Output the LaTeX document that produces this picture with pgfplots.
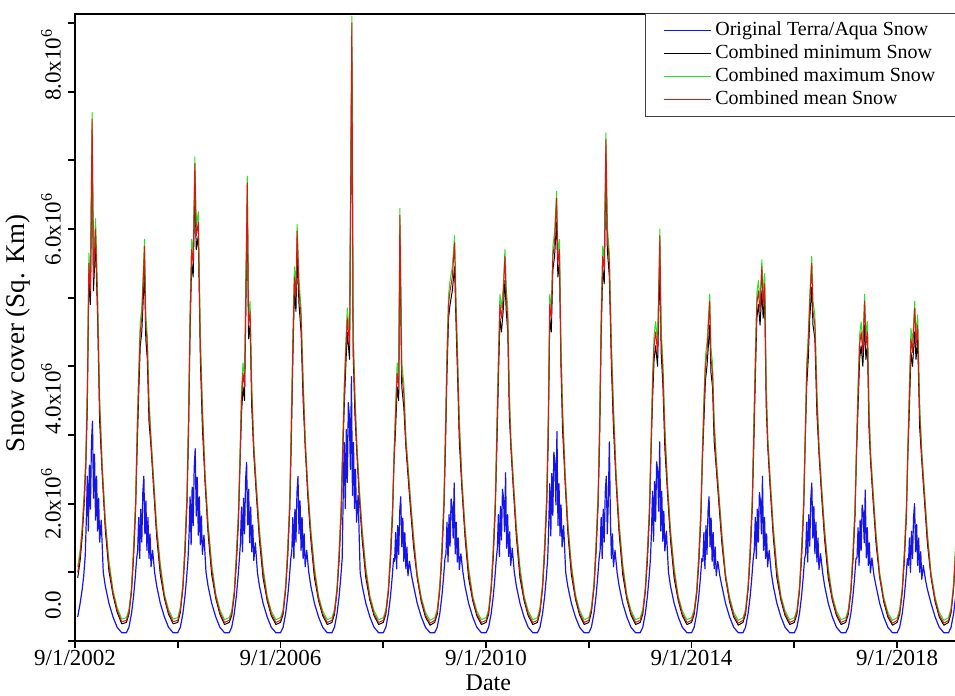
\documentclass[border=0pt]{standalone}
\usepackage{fontspec}
\setmainfont{Liberation Serif}
\usepackage{pgfplots}
\pgfplotsset{compat=1.18}
\usepackage{pgfplotstable}

\definecolor{snowblue}{RGB}{20,20,235}
\definecolor{snowgreen}{RGB}{40,225,40}
\definecolor{snowred}{RGB}{225,20,20}

% combined products: x = decimal year, k = minimum, g = maximum, r = mean (10^6 sq. km)
\pgfplotstableread{
x k g r
2002.720 0.92 1.08 1.00
2002.767 1.17 1.33 1.25
2002.807 1.52 1.68 1.60
2002.847 2.02 2.18 2.10
2002.877 2.52 2.68 2.60
2002.907 3.40 3.75 3.60
2002.937 5.30 5.65 5.50
2002.967 4.90 5.25 5.10
2003.000 7.25 7.70 7.60
2003.027 5.10 5.45 5.30
2003.067 5.80 6.15 6.00
2003.107 4.70 5.05 4.90
2003.147 3.20 3.55 3.40
2003.197 2.42 2.58 2.50
2003.257 1.62 1.78 1.70
2003.327 1.02 1.18 1.10
2003.407 0.67 0.74 0.70
2003.487 0.42 0.49 0.45
2003.577 0.25 0.32 0.28
2003.667 0.27 0.34 0.30
2003.717 0.39 0.46 0.42
2003.767 0.72 0.79 0.75
2003.807 1.22 1.38 1.30
2003.847 1.92 2.08 2.00
2003.877 2.80 3.15 3.00
2003.907 3.60 3.95 3.80
2003.937 4.30 4.65 4.50
2003.967 4.50 4.85 4.70
2004.020 5.40 5.85 5.75
2004.045 4.40 4.75 4.60
2004.075 4.10 4.45 4.30
2004.107 3.20 3.55 3.40
2004.147 2.82 2.98 2.90
2004.197 2.22 2.38 2.30
2004.257 1.52 1.68 1.60
2004.327 0.97 1.13 1.05
2004.407 0.62 0.69 0.65
2004.487 0.39 0.46 0.42
2004.577 0.25 0.32 0.28
2004.667 0.27 0.34 0.30
2004.717 0.42 0.49 0.45
2004.767 0.77 0.84 0.80
2004.807 1.27 1.43 1.35
2004.847 2.02 2.18 2.10
2004.877 3.00 3.35 3.20
2004.907 4.50 4.85 4.70
2004.937 5.50 5.85 5.70
2004.967 5.30 5.65 5.50
2005.000 6.60 7.05 6.95
2005.027 5.70 6.05 5.90
2005.067 5.90 6.25 6.10
2005.107 4.10 4.45 4.30
2005.147 3.10 3.45 3.30
2005.197 2.32 2.48 2.40
2005.257 1.57 1.73 1.65
2005.327 0.97 1.13 1.05
2005.407 0.62 0.69 0.65
2005.487 0.39 0.46 0.42
2005.577 0.24 0.31 0.27
2005.667 0.27 0.34 0.30
2005.717 0.37 0.44 0.40
2005.767 0.67 0.74 0.70
2005.807 1.12 1.28 1.20
2005.847 1.72 1.88 1.80
2005.877 2.52 2.68 2.60
2005.907 3.30 3.65 3.50
2005.937 3.70 4.05 3.90
2005.967 3.50 3.85 3.70
2006.020 6.32 6.77 6.67
2006.045 4.40 4.75 4.60
2006.075 4.60 4.95 4.80
2006.107 3.40 3.75 3.60
2006.147 2.72 2.88 2.80
2006.197 2.12 2.28 2.20
2006.257 1.47 1.63 1.55
2006.327 0.92 1.08 1.00
2006.407 0.59 0.66 0.62
2006.487 0.37 0.44 0.40
2006.577 0.24 0.31 0.27
2006.667 0.27 0.34 0.30
2006.717 0.39 0.46 0.42
2006.767 0.75 0.82 0.78
2006.807 1.22 1.38 1.30
2006.847 1.92 2.08 2.00
2006.877 2.90 3.25 3.10
2006.907 4.10 4.45 4.30
2006.937 5.10 5.45 5.30
2006.967 4.80 5.15 5.00
2006.990 5.62 6.07 5.97
2007.027 4.90 5.25 5.10
2007.067 4.50 4.85 4.70
2007.107 3.50 3.85 3.70
2007.147 2.82 2.98 2.90
2007.197 2.12 2.28 2.20
2007.257 1.47 1.63 1.55
2007.327 0.92 1.08 1.00
2007.407 0.59 0.66 0.62
2007.487 0.37 0.44 0.40
2007.577 0.24 0.31 0.27
2007.667 0.27 0.34 0.30
2007.717 0.39 0.46 0.42
2007.767 0.72 0.79 0.75
2007.807 1.17 1.33 1.25
2007.847 1.82 1.98 1.90
2007.877 2.72 2.88 2.80
2007.907 3.40 3.75 3.60
2007.937 4.00 4.35 4.20
2007.967 4.50 4.85 4.70
2008.010 4.10 4.45 4.30
2008.055 8.65 9.10 9.00
2008.080 4.20 4.55 4.40
2008.115 3.30 3.65 3.50
2008.147 2.82 2.98 2.90
2008.197 2.12 2.28 2.20
2008.257 1.47 1.63 1.55
2008.327 0.92 1.08 1.00
2008.407 0.59 0.66 0.62
2008.487 0.37 0.44 0.40
2008.577 0.24 0.31 0.27
2008.667 0.27 0.34 0.30
2008.717 0.39 0.46 0.42
2008.767 0.72 0.79 0.75
2008.807 1.17 1.33 1.25
2008.847 1.82 1.98 1.90
2008.877 2.62 2.78 2.70
2008.907 3.10 3.45 3.30
2008.937 3.70 4.05 3.90
2008.967 3.50 3.85 3.70
2008.990 5.85 6.30 6.20
2009.027 3.70 4.05 3.90
2009.067 3.40 3.75 3.60
2009.107 2.82 2.98 2.90
2009.147 2.42 2.58 2.50
2009.197 1.92 2.08 2.00
2009.257 1.37 1.53 1.45
2009.327 0.92 0.99 0.95
2009.407 0.57 0.64 0.60
2009.487 0.35 0.42 0.38
2009.577 0.23 0.30 0.26
2009.667 0.27 0.34 0.30
2009.717 0.39 0.46 0.42
2009.767 0.75 0.82 0.78
2009.807 1.22 1.38 1.30
2009.847 1.92 2.08 2.00
2009.877 2.80 3.15 3.00
2009.907 3.90 4.25 4.10
2009.937 4.70 5.05 4.90
2009.967 4.90 5.25 5.10
2010.010 5.10 5.45 5.30
2010.055 5.45 5.90 5.80
2010.080 4.70 5.05 4.90
2010.115 3.80 4.15 4.00
2010.147 2.90 3.25 3.10
2010.197 2.22 2.38 2.30
2010.257 1.52 1.68 1.60
2010.327 0.92 1.08 1.00
2010.407 0.59 0.66 0.62
2010.487 0.37 0.44 0.40
2010.577 0.24 0.31 0.27
2010.667 0.27 0.34 0.30
2010.717 0.39 0.46 0.42
2010.767 0.75 0.82 0.78
2010.807 1.22 1.38 1.30
2010.847 1.92 2.08 2.00
2010.877 2.80 3.15 3.00
2010.907 3.80 4.15 4.00
2010.937 4.70 5.05 4.90
2010.967 4.50 4.85 4.70
2011.000 4.80 5.15 5.00
2011.035 5.25 5.70 5.60
2011.060 4.80 5.15 5.00
2011.090 4.50 4.85 4.70
2011.120 3.30 3.65 3.50
2011.150 2.82 2.98 2.90
2011.197 2.22 2.38 2.30
2011.257 1.52 1.68 1.60
2011.327 0.92 1.08 1.00
2011.407 0.59 0.66 0.62
2011.487 0.37 0.44 0.40
2011.577 0.24 0.31 0.27
2011.667 0.27 0.34 0.30
2011.717 0.42 0.49 0.45
2011.767 0.77 0.84 0.80
2011.807 1.27 1.43 1.35
2011.847 1.97 2.13 2.05
2011.877 2.90 3.25 3.10
2011.907 4.70 5.05 4.90
2011.937 4.50 4.85 4.70
2011.967 5.40 5.75 5.60
2012.000 5.60 5.95 5.80
2012.040 6.10 6.55 6.45
2012.065 5.30 5.65 5.50
2012.095 5.50 5.85 5.70
2012.125 4.00 4.35 4.20
2012.155 3.10 3.45 3.30
2012.205 2.32 2.48 2.40
2012.260 1.57 1.73 1.65
2012.327 0.97 1.13 1.05
2012.407 0.61 0.68 0.64
2012.487 0.38 0.45 0.41
2012.577 0.24 0.31 0.27
2012.667 0.27 0.34 0.30
2012.717 0.42 0.49 0.45
2012.767 0.77 0.84 0.80
2012.807 1.27 1.43 1.35
2012.847 1.97 2.13 2.05
2012.877 2.90 3.25 3.10
2012.907 4.40 4.75 4.60
2012.937 5.40 5.75 5.60
2012.967 5.20 5.55 5.40
2013.000 6.95 7.40 7.30
2013.027 5.70 6.05 5.90
2013.067 5.30 5.65 5.50
2013.107 4.00 4.35 4.20
2013.147 3.10 3.45 3.30
2013.197 2.32 2.48 2.40
2013.257 1.57 1.73 1.65
2013.327 0.97 1.13 1.05
2013.407 0.61 0.68 0.64
2013.487 0.38 0.45 0.41
2013.577 0.24 0.31 0.27
2013.667 0.27 0.34 0.30
2013.717 0.39 0.46 0.42
2013.767 0.72 0.79 0.75
2013.807 1.17 1.33 1.25
2013.847 1.82 1.98 1.90
2013.877 2.72 2.88 2.80
2013.907 3.50 3.85 3.70
2013.937 4.10 4.45 4.30
2013.967 4.30 4.65 4.50
2014.005 4.00 4.35 4.20
2014.050 5.55 6.00 5.90
2014.075 4.20 4.55 4.40
2014.110 3.70 4.05 3.90
2014.147 2.80 3.15 3.00
2014.197 2.17 2.33 2.25
2014.257 1.47 1.63 1.55
2014.327 0.92 1.08 1.00
2014.407 0.59 0.66 0.62
2014.487 0.37 0.44 0.40
2014.577 0.24 0.31 0.27
2014.667 0.27 0.34 0.30
2014.717 0.39 0.46 0.42
2014.767 0.69 0.76 0.72
2014.807 1.12 1.28 1.20
2014.847 1.77 1.93 1.85
2014.877 2.62 2.78 2.70
2014.907 3.20 3.55 3.40
2014.937 3.80 4.15 4.00
2014.967 4.00 4.35 4.20
2015.020 4.60 5.05 4.95
2015.045 3.90 4.25 4.10
2015.075 3.70 4.05 3.90
2015.107 2.90 3.25 3.10
2015.147 2.52 2.68 2.60
2015.197 2.02 2.18 2.10
2015.257 1.42 1.58 1.50
2015.327 0.92 0.99 0.95
2015.407 0.57 0.64 0.60
2015.487 0.35 0.42 0.38
2015.577 0.23 0.30 0.26
2015.667 0.27 0.34 0.30
2015.717 0.39 0.46 0.42
2015.767 0.75 0.82 0.78
2015.807 1.22 1.38 1.30
2015.847 1.92 2.08 2.00
2015.877 2.80 3.15 3.00
2015.907 3.80 4.15 4.00
2015.937 4.70 5.05 4.90
2015.967 4.90 5.25 5.10
2016.000 4.60 4.95 4.80
2016.035 5.10 5.55 5.45
2016.060 4.70 5.05 4.90
2016.090 5.00 5.35 5.20
2016.120 3.40 3.75 3.60
2016.150 2.82 2.98 2.90
2016.197 2.22 2.38 2.30
2016.257 1.52 1.68 1.60
2016.327 0.92 1.08 1.00
2016.407 0.59 0.66 0.62
2016.487 0.37 0.44 0.40
2016.577 0.24 0.31 0.27
2016.667 0.27 0.34 0.30
2016.717 0.39 0.46 0.42
2016.767 0.73 0.80 0.76
2016.807 1.20 1.36 1.28
2016.847 1.87 2.03 1.95
2016.877 2.82 2.98 2.90
2016.907 3.70 4.05 3.90
2016.937 4.10 4.45 4.30
2016.967 4.70 5.05 4.90
2017.005 5.15 5.60 5.50
2017.030 4.60 4.95 4.80
2017.067 4.40 4.75 4.60
2017.107 3.30 3.65 3.50
2017.147 2.72 2.88 2.80
2017.197 2.12 2.28 2.20
2017.257 1.47 1.63 1.55
2017.327 0.92 1.08 1.00
2017.407 0.59 0.66 0.62
2017.487 0.37 0.44 0.40
2017.577 0.24 0.31 0.27
2017.667 0.27 0.34 0.30
2017.717 0.39 0.46 0.42
2017.767 0.71 0.78 0.74
2017.807 1.16 1.32 1.24
2017.847 1.80 1.96 1.88
2017.877 2.72 2.88 2.80
2017.907 3.40 3.75 3.60
2017.937 4.10 4.45 4.30
2017.967 4.30 4.65 4.50
2018.000 4.00 4.35 4.20
2018.035 4.60 5.05 4.95
2018.060 4.10 4.45 4.30
2018.090 4.30 4.65 4.50
2018.120 3.10 3.45 3.30
2018.150 2.62 2.78 2.70
2018.197 2.07 2.23 2.15
2018.257 1.42 1.58 1.50
2018.327 0.93 1.00 0.96
2018.407 0.57 0.64 0.60
2018.487 0.35 0.42 0.38
2018.577 0.23 0.30 0.26
2018.667 0.27 0.34 0.30
2018.717 0.39 0.46 0.42
2018.767 0.71 0.78 0.74
2018.807 1.16 1.32 1.24
2018.847 1.80 1.96 1.88
2018.877 2.72 2.88 2.80
2018.907 3.40 3.75 3.60
2018.937 4.20 4.55 4.40
2018.967 4.00 4.35 4.20
2019.010 4.50 4.95 4.85
2019.035 4.10 4.45 4.30
2019.067 4.40 4.75 4.60
2019.107 3.10 3.45 3.30
2019.147 2.62 2.78 2.70
2019.197 2.07 2.23 2.15
2019.257 1.42 1.58 1.50
2019.327 0.93 1.00 0.96
2019.407 0.57 0.64 0.60
2019.487 0.35 0.42 0.38
2019.577 0.23 0.30 0.26
2019.667 0.27 0.34 0.30
2019.717 0.41 0.48 0.44
2019.767 0.77 0.84 0.80
2019.807 1.27 1.43 1.35
2019.847 1.92 2.08 2.00
}\combdata

% original Terra/Aqua product, one season per line (10^6 sq. km)
\pgfplotstableread[row sep=\\]{
x b\\
2002.720 0.35\\ 2002.767 0.55\\ 2002.807 0.75\\ 2002.837 0.95\\ 2002.867 1.25\\ 2002.887 1.76\\ 2002.907 2.40\\ 2002.927 1.60\\ 2002.947 2.56\\ 2002.967 1.92\\ 2002.987 2.88\\ 2003.007 3.20\\ 2003.027 2.08\\ 2003.047 2.72\\ 2003.067 1.76\\ 2003.087 2.40\\ 2003.107 1.60\\ 2003.127 2.08\\ 2003.147 1.44\\ 2003.177 1.76\\ 2003.217 1.00\\ 2003.257 0.80\\ 2003.327 0.55\\ 2003.407 0.35\\ 2003.487 0.20\\ 2003.577 0.12\\
2003.667 0.12\\ 2003.717 0.20\\ 2003.767 0.40\\ 2003.807 0.65\\ 2003.837 0.90\\ 2003.867 1.20\\ 2003.887 1.32\\ 2003.907 1.80\\ 2003.927 1.20\\ 2003.947 1.92\\ 2003.967 1.44\\ 2003.987 2.16\\ 2004.007 2.40\\ 2004.027 1.56\\ 2004.047 2.04\\ 2004.067 1.32\\ 2004.087 1.80\\ 2004.107 1.20\\ 2004.127 1.56\\ 2004.147 1.08\\ 2004.177 1.32\\ 2004.217 1.00\\ 2004.257 0.80\\ 2004.327 0.55\\ 2004.407 0.35\\ 2004.487 0.20\\ 2004.577 0.12\\
2004.667 0.12\\ 2004.717 0.20\\ 2004.767 0.40\\ 2004.807 0.65\\ 2004.837 0.90\\ 2004.867 1.20\\ 2004.887 1.54\\ 2004.907 2.10\\ 2004.927 1.40\\ 2004.947 2.24\\ 2004.967 1.68\\ 2004.987 2.52\\ 2005.007 2.80\\ 2005.027 1.82\\ 2005.047 2.38\\ 2005.067 1.54\\ 2005.087 2.10\\ 2005.107 1.40\\ 2005.127 1.82\\ 2005.147 1.26\\ 2005.177 1.54\\ 2005.217 1.00\\ 2005.257 0.80\\ 2005.327 0.55\\ 2005.407 0.35\\ 2005.487 0.20\\ 2005.577 0.12\\
2005.667 0.12\\ 2005.717 0.20\\ 2005.767 0.40\\ 2005.807 0.65\\ 2005.837 0.90\\ 2005.867 1.20\\ 2005.887 1.43\\ 2005.907 1.95\\ 2005.927 1.30\\ 2005.947 2.08\\ 2005.967 1.56\\ 2005.987 2.34\\ 2006.007 2.60\\ 2006.027 1.69\\ 2006.047 2.21\\ 2006.067 1.43\\ 2006.087 1.95\\ 2006.107 1.30\\ 2006.127 1.69\\ 2006.147 1.17\\ 2006.177 1.43\\ 2006.217 1.00\\ 2006.257 0.80\\ 2006.327 0.55\\ 2006.407 0.35\\ 2006.487 0.20\\ 2006.577 0.12\\
2006.667 0.12\\ 2006.717 0.20\\ 2006.767 0.40\\ 2006.807 0.65\\ 2006.837 0.90\\ 2006.867 1.20\\ 2006.887 1.32\\ 2006.907 1.80\\ 2006.927 1.20\\ 2006.947 1.92\\ 2006.967 1.44\\ 2006.987 2.16\\ 2007.007 2.40\\ 2007.027 1.56\\ 2007.047 2.04\\ 2007.067 1.32\\ 2007.087 1.80\\ 2007.107 1.20\\ 2007.127 1.56\\ 2007.147 1.08\\ 2007.177 1.32\\ 2007.217 1.00\\ 2007.257 0.80\\ 2007.327 0.55\\ 2007.407 0.35\\ 2007.487 0.20\\ 2007.577 0.12\\
2007.667 0.12\\ 2007.717 0.20\\ 2007.767 0.40\\ 2007.807 0.65\\ 2007.837 0.90\\ 2007.867 1.20\\ 2007.887 2.12\\ 2007.907 2.89\\ 2007.927 1.93\\ 2007.947 3.08\\ 2007.967 2.31\\ 2007.987 3.47\\ 2008.007 3.27\\ 2008.027 2.50\\ 2008.047 3.85\\ 2008.067 2.12\\ 2008.087 2.89\\ 2008.107 1.93\\ 2008.127 2.50\\ 2008.147 1.73\\ 2008.177 2.12\\ 2008.217 1.00\\ 2008.257 0.80\\ 2008.327 0.55\\ 2008.407 0.35\\ 2008.487 0.20\\ 2008.577 0.12\\
2008.667 0.12\\ 2008.717 0.20\\ 2008.767 0.40\\ 2008.807 0.65\\ 2008.837 0.90\\ 2008.867 1.20\\ 2008.887 1.16\\ 2008.907 1.58\\ 2008.927 1.05\\ 2008.947 1.68\\ 2008.967 1.26\\ 2008.987 1.89\\ 2009.007 2.10\\ 2009.027 1.37\\ 2009.047 1.79\\ 2009.067 1.16\\ 2009.087 1.58\\ 2009.107 1.05\\ 2009.127 1.37\\ 2009.147 0.95\\ 2009.177 1.16\\ 2009.217 0.95\\ 2009.257 0.80\\ 2009.327 0.55\\ 2009.407 0.35\\ 2009.487 0.20\\ 2009.577 0.12\\
2009.667 0.12\\ 2009.717 0.20\\ 2009.767 0.40\\ 2009.807 0.65\\ 2009.837 0.90\\ 2009.867 1.20\\ 2009.887 1.27\\ 2009.907 1.73\\ 2009.927 1.15\\ 2009.947 1.84\\ 2009.967 1.38\\ 2009.987 2.07\\ 2010.007 1.96\\ 2010.027 1.50\\ 2010.047 2.30\\ 2010.067 1.27\\ 2010.087 1.73\\ 2010.107 1.15\\ 2010.127 1.50\\ 2010.147 1.04\\ 2010.177 1.27\\ 2010.217 1.00\\ 2010.257 0.80\\ 2010.327 0.55\\ 2010.407 0.35\\ 2010.487 0.20\\ 2010.577 0.12\\
2010.667 0.12\\ 2010.717 0.20\\ 2010.767 0.40\\ 2010.807 0.65\\ 2010.837 0.90\\ 2010.867 1.20\\ 2010.887 1.35\\ 2010.907 1.84\\ 2010.927 1.23\\ 2010.947 1.96\\ 2010.967 1.47\\ 2010.987 2.21\\ 2011.007 2.08\\ 2011.027 1.59\\ 2011.047 2.45\\ 2011.067 1.35\\ 2011.087 1.84\\ 2011.107 1.23\\ 2011.127 1.59\\ 2011.147 1.10\\ 2011.177 1.35\\ 2011.217 1.00\\ 2011.257 0.80\\ 2011.327 0.55\\ 2011.407 0.35\\ 2011.487 0.20\\ 2011.577 0.12\\
2011.667 0.12\\ 2011.717 0.20\\ 2011.767 0.40\\ 2011.807 0.65\\ 2011.837 0.90\\ 2011.867 1.20\\ 2011.887 1.68\\ 2011.907 2.29\\ 2011.927 1.53\\ 2011.947 2.44\\ 2011.967 1.83\\ 2011.987 2.75\\ 2012.007 2.59\\ 2012.027 1.98\\ 2012.047 3.05\\ 2012.067 1.68\\ 2012.087 2.29\\ 2012.107 1.53\\ 2012.127 1.98\\ 2012.147 1.37\\ 2012.177 1.68\\ 2012.217 1.00\\ 2012.257 0.80\\ 2012.327 0.55\\ 2012.407 0.35\\ 2012.487 0.20\\ 2012.577 0.12\\
2012.667 0.12\\ 2012.717 0.20\\ 2012.767 0.40\\ 2012.807 0.65\\ 2012.837 0.90\\ 2012.867 1.20\\ 2012.887 1.32\\ 2012.907 1.80\\ 2012.927 1.20\\ 2012.947 1.92\\ 2012.967 1.44\\ 2012.987 2.16\\ 2013.007 2.40\\ 2013.027 1.56\\ 2013.047 2.04\\ 2013.067 2.90\\ 2013.087 1.80\\ 2013.107 1.20\\ 2013.127 1.56\\ 2013.147 1.08\\ 2013.177 1.32\\ 2013.217 1.00\\ 2013.257 0.80\\ 2013.327 0.55\\ 2013.407 0.35\\ 2013.487 0.20\\ 2013.577 0.12\\
2013.667 0.12\\ 2013.717 0.20\\ 2013.767 0.40\\ 2013.807 0.65\\ 2013.837 0.90\\ 2013.867 1.20\\ 2013.887 1.60\\ 2013.907 2.18\\ 2013.927 1.45\\ 2013.947 2.32\\ 2013.967 1.74\\ 2013.987 2.61\\ 2014.007 2.47\\ 2014.027 1.89\\ 2014.047 2.90\\ 2014.067 1.60\\ 2014.087 2.18\\ 2014.107 1.45\\ 2014.127 1.89\\ 2014.147 1.31\\ 2014.177 1.60\\ 2014.217 1.00\\ 2014.257 0.80\\ 2014.327 0.55\\ 2014.407 0.35\\ 2014.487 0.20\\ 2014.577 0.12\\
2014.667 0.12\\ 2014.717 0.20\\ 2014.767 0.40\\ 2014.807 0.65\\ 2014.837 0.90\\ 2014.867 1.20\\ 2014.887 1.16\\ 2014.907 1.58\\ 2014.927 1.05\\ 2014.947 1.68\\ 2014.967 1.26\\ 2014.987 1.89\\ 2015.007 2.10\\ 2015.027 1.37\\ 2015.047 1.79\\ 2015.067 1.16\\ 2015.087 1.58\\ 2015.107 1.05\\ 2015.127 1.37\\ 2015.147 0.95\\ 2015.177 1.16\\ 2015.217 0.95\\ 2015.257 0.80\\ 2015.327 0.55\\ 2015.407 0.35\\ 2015.487 0.20\\ 2015.577 0.12\\
2015.667 0.12\\ 2015.717 0.20\\ 2015.767 0.40\\ 2015.807 0.65\\ 2015.837 0.90\\ 2015.867 1.20\\ 2015.887 1.32\\ 2015.907 1.80\\ 2015.927 1.20\\ 2015.947 1.92\\ 2015.967 1.44\\ 2015.987 2.16\\ 2016.007 2.04\\ 2016.027 1.56\\ 2016.047 2.40\\ 2016.067 1.32\\ 2016.087 1.80\\ 2016.107 1.20\\ 2016.127 1.56\\ 2016.147 1.08\\ 2016.177 1.32\\ 2016.217 1.00\\ 2016.257 0.80\\ 2016.327 0.55\\ 2016.407 0.35\\ 2016.487 0.20\\ 2016.577 0.12\\
2016.667 0.12\\ 2016.717 0.20\\ 2016.767 0.40\\ 2016.807 0.65\\ 2016.837 0.90\\ 2016.867 1.20\\ 2016.887 1.27\\ 2016.907 1.73\\ 2016.927 1.15\\ 2016.947 1.84\\ 2016.967 1.38\\ 2016.987 2.07\\ 2017.007 2.30\\ 2017.027 1.50\\ 2017.047 1.96\\ 2017.067 1.27\\ 2017.087 1.73\\ 2017.107 1.15\\ 2017.127 1.50\\ 2017.147 1.04\\ 2017.177 1.27\\ 2017.217 1.00\\ 2017.257 0.80\\ 2017.327 0.55\\ 2017.407 0.35\\ 2017.487 0.20\\ 2017.577 0.12\\
2017.667 0.12\\ 2017.717 0.20\\ 2017.767 0.40\\ 2017.807 0.65\\ 2017.837 0.90\\ 2017.867 1.20\\ 2017.887 1.21\\ 2017.907 1.65\\ 2017.927 1.10\\ 2017.947 1.76\\ 2017.967 1.32\\ 2017.987 1.98\\ 2018.007 1.87\\ 2018.027 1.43\\ 2018.047 2.20\\ 2018.067 1.21\\ 2018.087 1.65\\ 2018.107 1.10\\ 2018.127 1.43\\ 2018.147 0.99\\ 2018.177 1.21\\ 2018.217 0.95\\ 2018.257 0.80\\ 2018.327 0.55\\ 2018.407 0.35\\ 2018.487 0.20\\ 2018.577 0.12\\
2018.667 0.12\\ 2018.717 0.20\\ 2018.767 0.40\\ 2018.807 0.65\\ 2018.837 0.90\\ 2018.867 1.20\\ 2018.887 1.10\\ 2018.907 1.50\\ 2018.927 1.00\\ 2018.947 1.60\\ 2018.967 1.20\\ 2018.987 1.80\\ 2019.007 2.00\\ 2019.027 1.30\\ 2019.047 1.70\\ 2019.067 1.10\\ 2019.087 1.50\\ 2019.107 1.00\\ 2019.127 1.30\\ 2019.147 0.90\\ 2019.177 1.10\\ 2019.217 0.90\\ 2019.257 0.75\\ 2019.327 0.55\\ 2019.407 0.35\\ 2019.487 0.20\\ 2019.577 0.12\\
2019.667 0.12\\ 2019.717 0.20\\ 2019.767 0.40\\ 2019.807 0.65\\ 2019.837 0.90\\ 2019.867 1.20\\
}\origdata

\begin{document}
\begin{tikzpicture}
\begin{axis}[
    at={(0,0)}, anchor=south west,
    scale only axis,
    width=443.5pt, height=313.5pt,
    xmin=2002.667, xmax=2019.93,
    ymin=0, ymax=9.13,
    axis line style={line width=0.9pt},
    tick pos=left, tick align=outside,
    major tick length=3.5pt, minor tick length=3.5pt,
    every tick/.style={black, line width=0.9pt},
    xtick={2002.667,2006.667,2010.667,2014.667,2018.667},
    xticklabels={9/1/2002,9/1/2006,9/1/2010,9/1/2014,9/1/2018},
    minor xtick={2004.667,2008.667,2012.667,2016.667},
    ytick={0,2,4,6,8},
    yticklabels={\hspace{36pt}0.0,
                 2.0x10\textsuperscript{6},
                 4.0x10\textsuperscript{6}\hspace{32pt}\null,
                 6.0x10\textsuperscript{6},
                 \hspace{27pt}8.0x10\textsuperscript{6}},
    minor ytick={1,3,5,7,9},
    ticklabel style={font=\fontsize{11.5}{13}\selectfont},
    xticklabel style={inner sep=1pt},
    yticklabel style={rotate=90, anchor=south},
    xlabel={Date},
    ylabel={Snow cover (Sq. Km)},
    every axis x label/.style={at={(ticklabel cs:0.466)}, anchor=north,
        inner sep=0pt, yshift=-3pt, font=\fontsize{12}{14}\selectfont},
    every axis y label/.style={at={(ticklabel cs:0.491)}, rotate=90,
        anchor=south, inner sep=2pt, font=\fontsize{13.5}{16}\selectfont},
    legend style={at={(rel axis cs:0.6426,1.002)}, anchor=north west,
        draw=black!75, line width=0.5pt,
        inner xsep=9pt, inner ysep=2.75pt,
        font=\fontsize{10}{12}\selectfont,
        nodes={inner xsep=1.75pt, inner ysep=0.75pt,
               text height=7.5pt, text depth=2.5pt}},
    legend cell align=left,
    legend image code/.code={%
        \draw[#1] (0pt,0pt) -- (23.5pt,0pt);},
]
\addplot[draw=snowblue, line width=0.6pt, line join=round, forget plot]
    table[x=x, y=b] {\origdata};
\addplot[draw=black, line width=0.5pt, line join=round, forget plot]
    table[x=x, y=k] {\combdata};
\addplot[draw=snowgreen, line width=0.5pt, line join=round, forget plot]
    table[x=x, y=g] {\combdata};
\addplot[draw=snowred, line width=0.5pt, line join=round, forget plot]
    table[x=x, y=r] {\combdata};
\addlegendimage{draw=snowblue, line width=0.7pt}
\addlegendentry{Original Terra/Aqua Snow}
\addlegendimage{draw=black, line width=0.7pt}
\addlegendentry{Combined minimum Snow}
\addlegendimage{draw=snowgreen, line width=0.7pt}
\addlegendentry{Combined maximum Snow}
\addlegendimage{draw=snowred, line width=0.7pt}
\addlegendentry{Combined mean Snow}
\end{axis}
\pgfresetboundingbox
\path[use as bounding box] (-37.5pt,-27.5pt) rectangle (440pt,320.5pt);
\end{tikzpicture}
\end{document}
